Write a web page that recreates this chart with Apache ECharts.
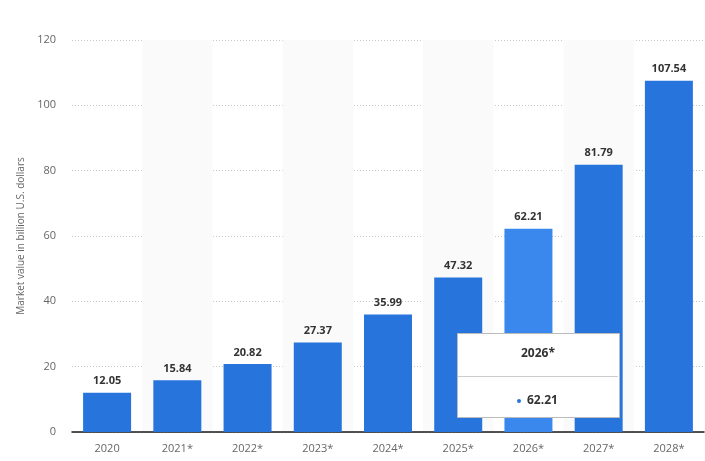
<!DOCTYPE html>
<html>
<head>
<meta charset="utf-8">
<script src="https://cdn.jsdelivr.net/npm/echarts@6/dist/echarts.min.js"></script>
<style>html,body{margin:0;padding:0;background:#fff}#c{width:705px;height:461px}</style>
</head>
<body>
<div id="c"></div>
<script>
var categories = ['2020','2021*','2022*','2023*','2024*','2025*','2026*','2027*','2028*'];
var values = [12.05, 15.84, 20.82, 27.37, 35.99, 47.32, 62.21, 81.79, 107.54];
var highlightIndex = 6;
var yTicks = [0, 20, 40, 60, 80, 100, 120];

var FONT = '"Open Sans", sans-serif';
var chart = echarts.init(document.getElementById('c'), null, {renderer: 'canvas'});
var data = values.map(function (v, i) {
  return i === highlightIndex ? {value: v, itemStyle: {color: '#3a88ee'}} : v;
});
chart.setOption({
  animation: false,
  grid: {left: 72, right: 1, top: 40, bottom: 29},
  xAxis: {
    type: 'category',
    data: categories,
    axisLine: {lineStyle: {color: '#1a1a1a', width: 1.5}},
    axisTick: {show: false},
    axisLabel: {color: '#666', fontSize: 11, fontFamily: FONT, margin: 11},
    splitArea: {show: true, areaStyle: {color: ['rgba(255,255,255,0)', '#fafafa']}}
  },
  yAxis: {
    type: 'value',
    min: yTicks[0],
    max: yTicks[yTicks.length - 1],
    interval: 20,
    name: 'Market value in billion U.S. dollars',
    nameLocation: 'middle',
    nameGap: 44,
    nameTextStyle: {color: '#666', fontSize: 10, fontFamily: FONT},
    axisLine: {show: false},
    axisTick: {show: false},
    axisLabel: {color: '#666', fontSize: 11, fontFamily: FONT, margin: 16},
    splitLine: {lineStyle: {color: '#c8c8c8', type: [1, 2], width: 1}}
  },
  series: [{
    type: 'bar',
    data: data,
    barWidth: 48,
    itemStyle: {color: '#2775dc'},
    label: {
      show: true,
      position: 'top',
      distance: 6,
      color: '#333',
      fontSize: 11,
      fontWeight: 'bold',
      fontFamily: FONT,
      formatter: function (p) { return p.value.toFixed(2); }
    }
  }],
  graphic: [
    {type: 'rect', left: 457, top: 333, z: 100,
      shape: {width: 162, height: 84},
      style: {fill: '#fff', stroke: '#bbb', lineWidth: 1}},
    {type: 'line', z: 101,
      shape: {x1: 458, y1: 376.5, x2: 618, y2: 376.5},
      style: {stroke: '#ccc', lineWidth: 1}},
    {type: 'text', z: 101, x: 538, y: 354,
      style: {text: categories[highlightIndex], fill: '#333', font: 'bold 12px ' + FONT, textAlign: 'center', textVerticalAlign: 'middle'}},
    {type: 'circle', z: 101, shape: {cx: 519, cy: 401, r: 2}, style: {fill: '#2775dc'}},
    {type: 'text', z: 101, x: 527, y: 401,
      style: {text: values[highlightIndex].toFixed(2), fill: '#333', font: 'bold 12px ' + FONT, textAlign: 'left', textVerticalAlign: 'middle'}}
  ]
});
</script>
</body>
</html>
